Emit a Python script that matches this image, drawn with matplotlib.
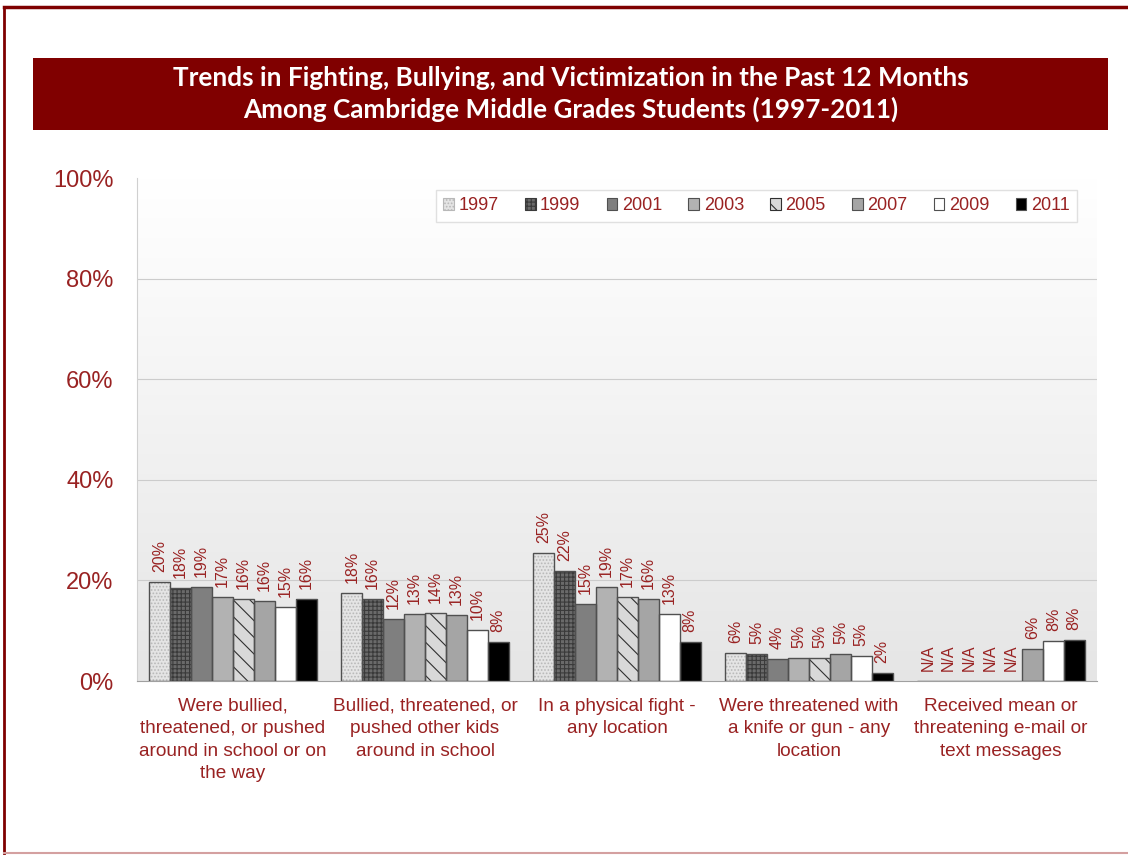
import numpy as np
import matplotlib.pyplot as plt
from matplotlib.lines import Line2D

### Data
categories = ['Were bullied,\nthreatened, or pushed\naround in school or on\nthe way',
              'Bullied, threatened, or\npushed other kids\naround in school',
              'In a physical fight -\nany location',
              'Were threatened with\na knife or gun - any\nlocation',
              'Received mean or\nthreatening e-mail or\ntext messages']
years = ['1997', '1999', '2001', '2003', '2005', '2007', '2009', '2011']
# bar heights (percent); None = N/A
vals_1997 = [19.7, 17.5, 25.4, 5.6, None]
vals_1999 = [18.4, 16.3, 21.8, 5.3, None]
vals_2001 = [18.7, 12.3, 15.3, 4.4, None]
vals_2003 = [16.7, 13.3, 18.7, 4.6, None]
vals_2005 = [16.3, 13.5, 16.7, 4.6, None]
vals_2007 = [15.9, 13.1, 16.3, 5.3, 6.3]
vals_2009 = [14.7, 10.1, 13.3, 5.0, 8.0]
vals_2011 = [16.3, 7.7, 7.7, 1.6, 8.1]
# printed labels
lab_1997 = ['20%', '18%', '25%', '6%', 'N/A']
lab_1999 = ['18%', '16%', '22%', '5%', 'N/A']
lab_2001 = ['19%', '12%', '15%', '4%', 'N/A']
lab_2003 = ['17%', '13%', '19%', '5%', 'N/A']
lab_2005 = ['16%', '14%', '17%', '5%', 'N/A']
lab_2007 = ['16%', '13%', '16%', '5%', '6%']
lab_2009 = ['15%', '10%', '13%', '5%', '8%']
lab_2011 = ['16%', '8%', '8%', '2%', '8%']

series = [vals_1997, vals_1999, vals_2001, vals_2003, vals_2005, vals_2007, vals_2009, vals_2011]
labels = [lab_1997, lab_1999, lab_2001, lab_2003, lab_2005, lab_2007, lab_2009, lab_2011]

# style per year: face, hatch, hatch colour
styles = [('#e4e4e4', '.....', '#b8b8b8'),
          ('#6a6a6a', '++++', '#3a3a3a'),
          ('#7f7f7f', None, None),
          ('#b2b2b2', None, None),
          ('#d8d8d8', '\\\\', '#303030'),
          ('#a5a5a5', None, None),
          ('#ffffff', None, None),
          ('#000000', None, None)]

red = '#992222'
plt.rcParams['font.family'] = ['Liberation Sans', 'DejaVu Sans']
plt.rcParams['hatch.linewidth'] = 0.8

fig = plt.figure(figsize=(11.28, 8.55), dpi=100)
W, H = 1128., 855.

# outer border
fig.add_artist(Line2D([4/W, 1], [1-7/H, 1-7/H], color='#7f0000', lw=2.5, transform=fig.transFigure))
fig.add_artist(Line2D([4/W, 4/W], [1-7/H, 1-853/H], color='#7f0000', lw=2.0, transform=fig.transFigure))
fig.add_artist(Line2D([4/W, 1], [1-853/H, 1-853/H], color='#d4a0a0', lw=1.5, transform=fig.transFigure))

# title band
tax = fig.add_axes([33/W, 1-130/H, 1075/W, 72/H])
tax.set_facecolor('#800000')
tax.set_xticks([]); tax.set_yticks([])
for s in tax.spines.values():
    s.set_visible(False)
tax.text(0.5, 0.5, 'Trends in Fighting, Bullying, and Victimization in the Past 12 Months\n'
         'Among Cambridge Middle Grades Students (1997-2011)',
         ha='center', va='center', color='white', fontsize=18.8, fontweight='bold',
         family=['Lato', 'DejaVu Sans'], linespacing=1.3, transform=tax.transAxes)

# main chart
ax = fig.add_axes([137/W, 1-681/H, 960/W, 503/H])
ax.set_xlim(-0.5, 4.5)
ax.set_ylim(0, 100)
g = np.linspace(1.0, 0.90, 256)
grad = np.dstack([g, g, g]).reshape(256, 1, 3)
ax.imshow(grad, extent=[-0.5, 4.5, 0, 100], aspect='auto', origin='upper', zorder=0)
for y in [20, 40, 60, 80]:
    ax.axhline(y, color='#cccccc', lw=0.8, zorder=1)

bw = 0.109
x = np.arange(len(categories))
handles = []
for i, (vals, labs, (fc, hatch, hc)) in enumerate(zip(series, labels, styles)):
    xs = x + (i - 3.5) * bw
    h = [v if v is not None else 0 for v in vals]
    if hatch:
        ax.bar(xs, h, bw, color=fc, edgecolor=hc, hatch=hatch, lw=0, zorder=2)
    else:
        ax.bar(xs, h, bw, color=fc, lw=0, zorder=2)
    ax.bar(xs, h, bw, fill=False, edgecolor='#505050', lw=1.0, zorder=3)
    for xx, hh, lb in zip(xs, h, labs):
        ax.text(xx, hh + 2.0, lb, rotation=90, ha='center', va='bottom',
                color=red, fontsize=11.5, zorder=4)
    handles.append(plt.Rectangle((0, 0), 1, 1, facecolor=fc, edgecolor=hc if hatch else '#505050',
                                 hatch=hatch, lw=0.8))

leg = ax.legend(handles, years, loc='upper right', bbox_to_anchor=(0.979, 0.976), ncol=8,
                frameon=True, framealpha=1, fontsize=13, handlelength=0.6, handleheight=0.6,
                handletextpad=0.25, columnspacing=1.45, borderpad=0.4, borderaxespad=0,
                fancybox=False)
leg.get_frame().set_edgecolor('#e0e0e0')
for t in leg.get_texts():
    t.set_color(red)

ax.set_yticks([0, 20, 40, 60, 80, 100])
ax.set_yticklabels(['0%', '20%', '40%', '60%', '80%', '100%'], color=red, fontsize=17)
ax.set_xticks(x)
ax.set_xticklabels(categories, color=red, fontsize=13.7, linespacing=1.42, va='top')
ax.tick_params(axis='y', length=0, pad=17)
ax.tick_params(axis='x', length=0, pad=12)
for s in ['top', 'right']:
    ax.spines[s].set_visible(False)
ax.spines['left'].set_color('#d0d0d0')
ax.spines['bottom'].set_color('#a0a0a0')

fig.savefig('out.png', dpi=100)
